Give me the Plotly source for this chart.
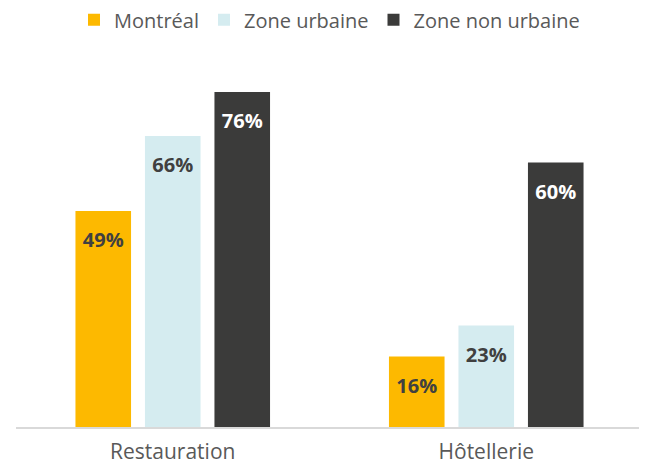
import plotly.graph_objects as go

categories = ["Restauration", "Hôtellerie"]
series_names = ["Montréal", "Zone urbaine", "Zone non urbaine"]
montreal = [49, 16]
urbaine = [66, 23]
non_urbaine = [76, 60]
values = [montreal, urbaine, non_urbaine]
colors = ["#FDB900", "#D5ECF0", "#3B3B3A"]
text_colors = ["#404040", "#404040", "#FFFFFF"]

fig = go.Figure()
for name, vals, c, tc in zip(series_names, values, colors, text_colors):
    fig.add_trace(go.Bar(
        name=name, x=categories, y=vals,
        marker=dict(color=c, line=dict(width=0)),
        text=[f"\u00a0<br><span style='font-size:20px'>{v}%</span>" for v in vals],
        textposition="inside", insidetextanchor="end",
        textangle=0,
        textfont=dict(family="Open Sans", size=14, color=tc, weight="bold"),
        cliponaxis=False,
    ))

fig.update_layout(
    width=639, height=458,
    margin=dict(l=8, r=4, t=42, b=39, autoexpand=False),
    barmode="group", bargap=0.335, bargroupgap=0.2,
    plot_bgcolor="white", paper_bgcolor="white",
    font=dict(family="Open Sans", color="#595959"),
    showlegend=True,
    legend=dict(orientation="h", x=0.5, xanchor="center", y=1.08, yanchor="middle",
                font=dict(size=20, color="#595959"),
                traceorder="normal", itemwidth=30),
    uniformtext=dict(mode="show", minsize=12),
)
fig.update_xaxes(showline=True, linecolor="#D9D9D9", linewidth=2,
                 tickfont=dict(size=21, color="#595959"), ticks="",
                 ticklabelstandoff=5, automargin=False)
fig.update_yaxes(range=[0, 85.5], showgrid=False, showticklabels=False,
                 zeroline=False, automargin=False)

fig.write_html("out.html")
